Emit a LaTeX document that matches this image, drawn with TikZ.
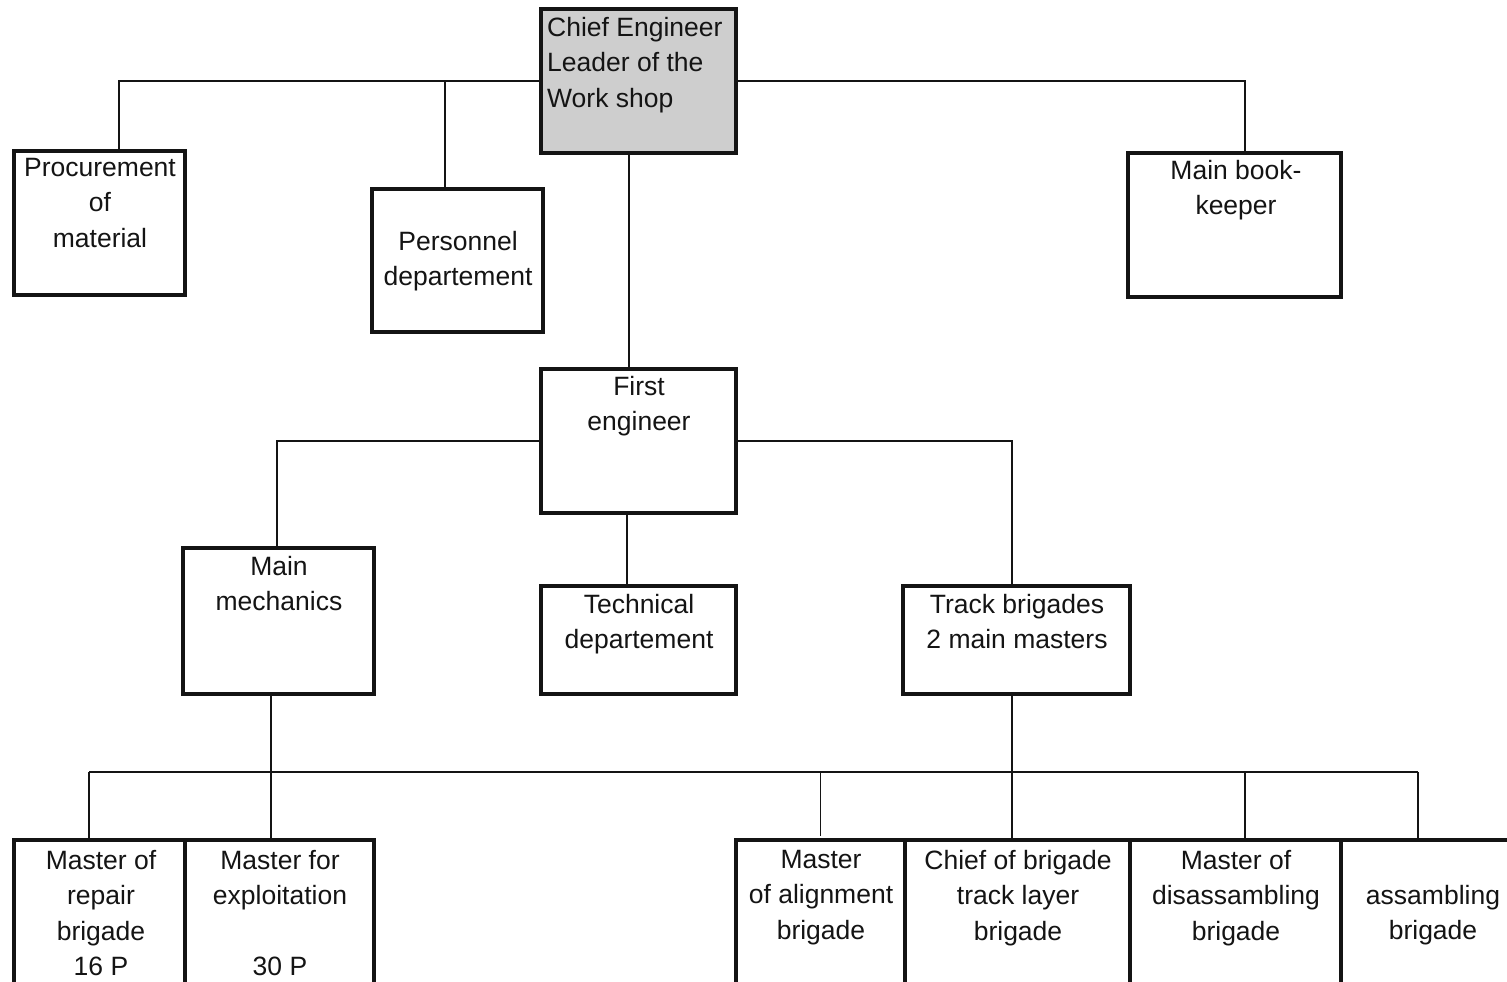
\documentclass[tikz,border=0pt]{standalone}
\usepackage{fontspec}
\setmainfont{Liberation Sans}
\definecolor{chieffill}{RGB}{206,206,206}
\definecolor{ink}{RGB}{20,20,20}

% \orgbox[opts]{name}{x1}{y1}{x2}{y2}: an empty framed box between two corners
\newcommand\orgbox[6][]{%
  \node[unitbox,#1,minimum width={(#5-#3)*1pt},minimum height={(#6-#4)*1pt}]
    (#2) at ({(#3+#5)/2},{(#4+#6)/2}) {};}

\tikzset{
  unitbox/.style={draw=ink,line width=4.5pt,rectangle,inner sep=0pt,outer sep=0pt},
  link/.style={draw=ink,line width=1.8pt},
  caption/.style={font=\fontsize{26.5}{35.5}\selectfont,text=ink,align=center,inner sep=0pt,anchor=north},
}

\begin{document}
\begin{tikzpicture}[x=1pt,y=-1pt]
\useasboundingbox (0,0) rectangle (1507,982);
\clip (0,0) rectangle (1507,982);
\fill[white] (0,0) rectangle (1507,982);

% boxes
\orgbox[fill=chieffill]{chief}{541}{9}{736}{153}
\orgbox{proc}{14}{151}{185}{295}
\orgbox{pers}{372}{189}{543}{332}
\orgbox{book}{1128}{153}{1341}{297}
\orgbox{first}{541}{369}{736}{513}
\orgbox{mech}{183}{548}{374}{694}
\orgbox{tech}{541}{586}{736}{694}
\orgbox{track}{903}{586}{1130}{694}
\orgbox{repair}{14}{840}{185}{1010}
\orgbox{expl}{185}{840}{374}{1010}
\orgbox{align}{736}{840}{905}{1010}
\orgbox{layer}{905}{840}{1130}{1010}
\orgbox{dis}{1130}{840}{1341}{1010}
\orgbox{ass}{1341}{840}{1530}{1010}

% connectors below the chief engineer
\draw[link] (chief.west) -| ([xshift=19.5pt]proc.north);
\draw[link] (chief.west) -| ([xshift=-12.5pt]pers.north);
\draw[link] (chief.east) -| ([xshift=10.5pt]book.north);
\draw[link] ([xshift=-9.5pt]chief.south) -- ([xshift=-9.5pt]first.north);

% connectors below the first engineer
\draw[link] (first.west) -| ([xshift=-1.5pt]mech.north);
\draw[link] (first.east) -| ([xshift=-4.5pt]track.north);
\draw[link] ([xshift=-11.5pt]first.south) -- ([xshift=-11.5pt]tech.north);

% brigade bus
\coordinate (busL) at (89,772);
\coordinate (busR) at (1418,772);
\draw[link] (busL) -- (busR);
\draw[link] (busL) -- (busL |- repair.north);
\draw[link] (busR) -- (busR |- ass.north);
\draw[link] (align.north |- busL) -- ([yshift=4pt]align.north);
\draw[link] ([xshift=9.5pt]dis.north |- busL) -- ([xshift=9.5pt]dis.north);
\draw[link] ([xshift=-7.5pt]mech.south) -- ([xshift=-7.5pt]mech.south |- expl.north);
\draw[link] ([xshift=-4.5pt]track.south) -- ([xshift=-4.5pt]track.south |- layer.north);

% captions
\node[caption,align=left,anchor=north west] (tchief) at (547,17) {Chief Engineer\\Leader of the\\Work shop};
\node[caption] (tproc) at (100,158) {Procurement\\of\\material};
\node[caption] (tpers) at (458,231) {Personnel\\departement};
\node[caption] (tbook) at (1236,160) {Main book-\\keeper};
\node[caption] (tfirst) at (639,376) {First\\engineer};
\node[caption] (tmech) at (279,556) {Main\\mechanics};
\node[caption] (ttech) at (639,594) {Technical\\departement};
\node[caption] (ttrack) at (1017,594) {Track brigades\\2 main masters};
\node[caption] (trepair) at (101,850) {Master of\\repair\\brigade\\16 P};
\node[caption] (texpl) at (280,850) {Master for\\exploitation\\[35.5pt]30 P};
\node[caption] (talign) at (821,850) {Master\\of alignment\\brigade};
\node[caption] (tlayer) at (1018,850) {Chief of brigade\\track layer\\brigade};
\node[caption] (tdis) at (1236,850) {Master of\\disassambling\\brigade};
\node[caption] (tass) at (1433,885) {assambling\\brigade};
\end{tikzpicture}
\end{document}
